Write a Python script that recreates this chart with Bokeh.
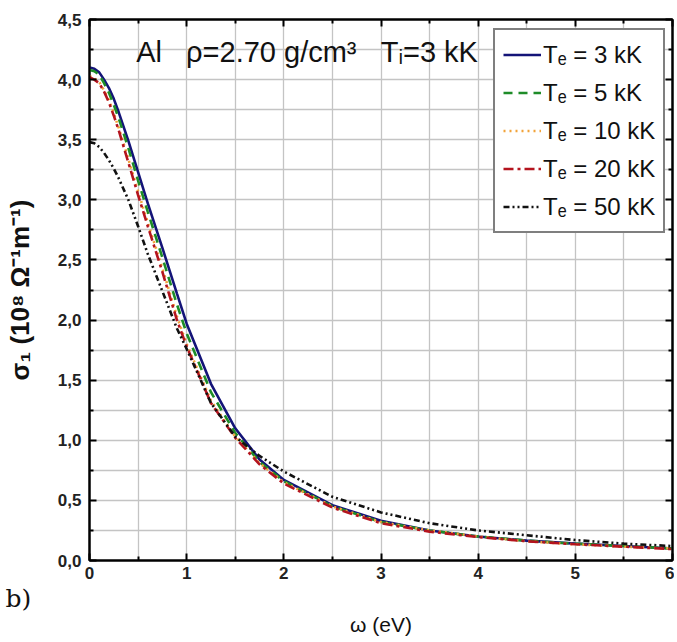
from bokeh.plotting import figure
from bokeh.models import (FixedTicker, CustomJSTickFormatter, LinearAxis, Label,
                          Legend, LegendItem, Range1d, Title)
from bokeh.embed import file_html
from bokeh.resources import INLINE

omega = [0, 0.05, 0.1, 0.15, 0.2, 0.25, 0.3, 0.4, 0.5, 0.6, 0.75, 0.9, 1.0, 1.25, 1.5,
         1.75, 2.0, 2.5, 3.0, 3.5, 4.0, 4.5, 5.0, 5.5, 6.0]
s_3kK = [4.10, 4.09, 4.06, 4.00, 3.93, 3.84, 3.73, 3.49, 3.23, 2.97, 2.60, 2.22, 1.97,
         1.47, 1.10, 0.84, 0.67, 0.46, 0.33, 0.25, 0.20, 0.165, 0.14, 0.12, 0.10]
s_5kK = [4.08, 4.07, 4.04, 3.97, 3.89, 3.79, 3.68, 3.43, 3.16, 2.90, 2.52, 2.13, 1.89,
         1.40, 1.06, 0.82, 0.66, 0.45, 0.32, 0.25, 0.20, 0.165, 0.14, 0.12, 0.10]
s_10kK = [4.03, 4.01, 3.98, 3.91, 3.83, 3.72, 3.60, 3.34, 3.07, 2.81, 2.43, 2.03, 1.80,
          1.33, 1.03, 0.81, 0.65, 0.45, 0.32, 0.25, 0.20, 0.16, 0.135, 0.115, 0.10]
s_20kK = [4.02, 4.00, 3.97, 3.90, 3.81, 3.70, 3.58, 3.31, 3.04, 2.78, 2.40, 2.00, 1.78,
          1.31, 1.02, 0.80, 0.64, 0.44, 0.31, 0.24, 0.195, 0.16, 0.135, 0.115, 0.095]
s_50kK = [3.48, 3.47, 3.44, 3.39, 3.33, 3.26, 3.18, 3.00, 2.78, 2.55, 2.24, 1.93, 1.76,
          1.31, 1.03, 0.87, 0.74, 0.53, 0.40, 0.31, 0.25, 0.21, 0.17, 0.14, 0.12]

series_labels = ["Tₑ = 3 kK", "Tₑ = 5 kK", "Tₑ = 10 kK", "Tₑ = 20 kK", "Tₑ = 50 kK"]
x_ticks = [0, 1, 2, 3, 4, 5, 6]
x_minor = [0.5, 1.5, 2.5, 3.5, 4.5, 5.5]
y_ticks = [0.0, 0.5, 1.0, 1.5, 2.0, 2.5, 3.0, 3.5, 4.0, 4.5]
y_minor = [0.25, 0.75, 1.25, 1.75, 2.25, 2.75, 3.25, 3.75, 4.25]

FONT = "Liberation Sans Narrow, Liberation Sans, Arial"

p = figure(frame_width=583, frame_height=541, output_backend="svg", toolbar_location=None,
           x_range=Range1d(0, 6), y_range=Range1d(0, 4.5),
           min_border_left=89, min_border_top=19, min_border_bottom=76, min_border_right=2)
p.background_fill_color = "white"
p.outline_line_color = "black"
p.outline_line_width = 2

styles = [
    (s_3kK, "#141478", "solid"),
    (s_5kK, "#1e8c28", "9 6"),
    (s_10kK, "#f2a33a", "2 4"),
    (s_20kK, "#b4141e", "10 4 3 4"),
    (s_50kK, "#111111", "6 3 2 3 2 3"),
]
items = []
for (ys, col, dash), lab in zip(styles, series_labels):
    r = p.line(omega, ys, line_color=col, line_width=2.6, line_dash=dash)
    items.append(LegendItem(label=lab, renderers=[r]))

for ax in [p.xaxis[0], p.yaxis[0]]:
    ax.axis_line_color = "black"
    ax.axis_line_width = 2
    ax.major_tick_in = 7
    ax.major_tick_out = 0
    ax.minor_tick_in = 4
    ax.minor_tick_out = 0
    ax.major_tick_line_width = 2
    ax.minor_tick_line_width = 2
    ax.major_label_text_font = FONT
    ax.major_label_text_font_style = "bold"
    ax.major_label_text_font_size = "17px"
    ax.major_label_text_color = "#222222"

p.xaxis.ticker = FixedTicker(ticks=x_ticks, minor_ticks=x_minor)
p.yaxis.ticker = FixedTicker(ticks=y_ticks, minor_ticks=y_minor)
p.xaxis.formatter = CustomJSTickFormatter(code="return tick.toFixed(0);")
p.yaxis.formatter = CustomJSTickFormatter(code="return tick.toFixed(1).replace('.', ',');")
p.yaxis.axis_label = "σ₁ (10⁸ Ω⁻¹m⁻¹)"
p.yaxis.axis_label_text_font = FONT
p.yaxis.axis_label_text_font_size = "26px"
p.yaxis.axis_label_text_color = "#111111"
p.yaxis.axis_label_text_font_style = "bold"
p.yaxis.axis_label_standoff = 20
p.xaxis.major_label_standoff = 6
p.yaxis.major_label_standoff = 8

for loc, tk in [("right", FixedTicker(ticks=y_ticks, minor_ticks=y_minor)),
                ("above", FixedTicker(ticks=x_ticks, minor_ticks=x_minor))]:
    ax = LinearAxis(ticker=tk)
    ax.axis_line_color = "black"
    ax.axis_line_width = 2
    ax.major_tick_in = 7
    ax.major_tick_out = 0
    ax.minor_tick_in = 4
    ax.minor_tick_out = 0
    ax.major_tick_line_width = 2
    ax.minor_tick_line_width = 2
    ax.major_label_text_font_size = "0px"
    ax.major_label_standoff = 0
    p.add_layout(ax, loc)

p.xgrid.ticker = FixedTicker(ticks=x_ticks, minor_ticks=x_minor)
p.ygrid.ticker = FixedTicker(ticks=y_ticks, minor_ticks=y_minor)
for g in [p.xgrid[0], p.ygrid[0]]:
    g.grid_line_color = "#c4c4c4"
    g.grid_line_width = 1.3
    g.minor_grid_line_color = "#c4c4c4"
    g.minor_grid_line_width = 1.3

legend = Legend(items=items, location=(404, 327), orientation="vertical")
legend.border_line_color = "black"
legend.border_line_width = 2
legend.background_fill_alpha = 1
legend.glyph_width = 38
legend.glyph_height = 33
legend.spacing = 5
legend.padding = 8
legend.margin = 0
legend.label_standoff = 2
legend.label_text_font = FONT
legend.label_text_font_size = "24px"
legend.label_text_color = "#111111"
p.add_layout(legend)

NB = "\u00a0"
p.add_layout(Label(x=0.48, y=4.23,
                   text="Al" + NB * 3 + "ρ=2.70 g/cm³" + NB * 3 + "Tᵢ=3 kK",
                   text_font=FONT, text_font_size="29px", text_color="#111111",
                   text_baseline="middle", text_align="left"))

p.add_layout(Title(text="b)", align="left", offset=-84, standoff=0,
                   text_font="DejaVu Serif", text_font_size="25px", text_line_height=0.9,
                   text_font_style="normal", text_color="#111111"), "below")
p.add_layout(Title(text="ω (eV)", align="center", standoff=-4,
                   text_font=FONT, text_font_size="21px",
                   text_font_style="normal", text_color="#111111"), "below")

open("out.html", "w").write(file_html(p, INLINE))
